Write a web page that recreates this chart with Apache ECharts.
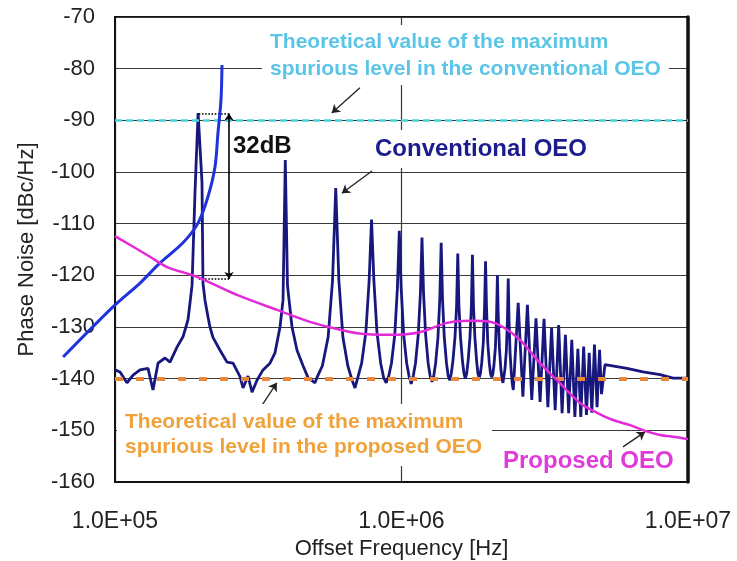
<!DOCTYPE html>
<html><head><meta charset="utf-8">
<script src="https://cdn.jsdelivr.net/npm/echarts@6/dist/echarts.min.js"></script>
<style>html,body{margin:0;padding:0;background:#fff}#chart{width:737px;height:561px}</style>
</head><body><div id="chart"></div>
<script>
// ---- data (frequency in Hz, level in dBc/Hz) ----
const xTickLabels = {5: '1.0E+05', 6: '1.0E+06', 7: '1.0E+07'};
const yTicks = [-160, -150, -140, -130, -120, -110, -100, -90, -80, -70];

const spuriousConventional = -90;
const spuriousProposed = -140;

const blueFreq  = [6.59e4, 9.84e4, 1.223e5, 1.436e5, 1.727e5, 1.949e5, 2.111e5, 2.234e5, 2.288e5, 2.344e5, 2.363e5];
const blueLevel = [-135.8, -126.1, -121.5, -117.6, -113.7, -109.9, -104.8, -99.0, -92.4, -86.1, -79.3];

const proposedFreq  = [1.0e5, 1.325e5, 1.519e5, 1.933e5, 2.666e5, 3.677e5, 4.792e5, 5.768e5, 6.993e5, 9.119e5,
                       1.160e6, 1.441e6, 1.734e6, 2.037e6, 2.261e6, 2.592e6, 3.044e6, 3.490e6, 4.198e6, 4.814e6,
                       5.472e6, 6.276e6, 7.079e6, 7.985e6, 9.010e6, 1.0e7];
const proposedLevel = [-112.4, -116.4, -118.4, -120.3, -123.8, -126.7, -129.0, -130.2, -131.2, -131.5,
                       -131.0, -129.2, -128.8, -129.0, -130.0, -132.5, -137.0, -140.3, -144.7, -146.6,
                       -148.0, -149.0, -150.1, -150.9, -151.3, -151.7];

const conventionalFreq = [
  1.0e5, 1.041e5, 1.101e5, 1.156e5, 1.223e5, 1.304e5, 1.357e5, 1.413e5, 1.495e5, 1.556e5,
  1.646e5, 1.727e5, 1.798e5, 1.857e5, 1.902e5, 1.950e5, 2.012e5, 2.028e5, 2.061e5, 2.111e5,
  2.145e5, 2.197e5, 2.326e5, 2.460e5, 2.582e5, 2.731e5, 2.798e5, 2.913e5, 3.008e5, 3.131e5,
  3.286e5, 3.475e5, 3.618e5, 3.767e5, 3.859e5, 3.930e5, 4.000e5, 4.148e5, 4.318e5, 4.532e5,
  4.718e5, 4.990e5,
  5.095e5, 5.295e5, 5.545e5, 5.745e5, 5.895e5, 6.045e5, 6.245e5, 6.495e5, 6.695e5, 6.881e5,
  7.060e5, 7.260e5, 7.510e5, 7.710e5, 7.860e5, 8.010e5, 8.210e5, 8.460e5, 8.660e5, 8.840e5,
  9.025e5, 9.225e5, 9.475e5, 9.675e5, 9.825e5, 9.975e5, 1.0175e6, 1.0425e6, 1.0625e6, 1.0808e6,
  1.099e6, 1.119e6, 1.144e6, 1.164e6, 1.179e6, 1.194e6, 1.214e6, 1.239e6, 1.259e6, 1.2773e6,
  1.2955e6, 1.3155e6, 1.3405e6, 1.3605e6, 1.3755e6, 1.3905e6, 1.4105e6, 1.4355e6, 1.4555e6, 1.4738e6,
  1.492e6, 1.512e6, 1.537e6, 1.557e6, 1.572e6, 1.587e6, 1.607e6, 1.632e6, 1.652e6, 1.6703e6,
  1.6885e6, 1.7085e6, 1.7335e6, 1.7535e6, 1.7685e6, 1.7835e6, 1.8035e6, 1.8285e6, 1.8485e6, 1.8668e6,
  1.885e6, 1.905e6, 1.930e6, 1.950e6, 1.965e6, 1.980e6, 2.000e6, 2.025e6, 2.045e6, 2.0633e6,
  2.0815e6, 2.1015e6, 2.1265e6, 2.1465e6, 2.1615e6, 2.1765e6, 2.1965e6, 2.2215e6, 2.2415e6, 2.2598e6,
  2.278e6, 2.298e6, 2.323e6, 2.343e6, 2.358e6, 2.373e6, 2.393e6, 2.418e6, 2.438e6, 2.4563e6,
  2.5545e6, 2.6528e6, 2.751e6, 2.8493e6, 2.9475e6, 3.0458e6, 3.144e6, 3.2423e6,
  3.3405e6, 3.4388e6, 3.537e6, 3.6353e6, 3.7335e6, 3.8318e6, 3.930e6, 4.0283e6,
  4.1265e6, 4.2248e6, 4.323e6, 4.4213e6, 4.5195e6, 4.6178e6, 4.716e6, 4.8143e6,
  4.9125e6, 4.990e6, 5.131e6, 6.124e6, 6.965e6, 7.985e6, 8.866e6, 1.0e7
];
const conventionalLevel = [
  -138.3, -138.7, -140.8, -139.3, -138.3, -138.0, -142.2, -137.0, -136.0, -136.8,
  -133.9, -131.9, -128.6, -122.0, -104.0, -88.6, -102.0, -121.5, -124.8, -128.0,
  -130.0, -132.0, -134.5, -136.8, -137.0, -139.6, -141.8, -139.5, -142.6, -140.3,
  -138.3, -137.0, -135.0, -130.0, -124.8, -97.7, -122.0, -130.0, -134.5, -137.5,
  -139.8, -140.8,
  -139.5, -137.5, -132.0, -121.0, -103.1, -121.0, -132.0, -137.5, -140.0, -141.8,
  -139.5, -137.0, -131.0, -121.0, -109.2, -121.0, -131.0, -137.0, -139.8, -140.8,
  -139.5, -137.0, -131.5, -122.5, -111.4, -122.5, -131.5, -137.0, -139.5, -141.0,
  -139.5, -137.0, -131.5, -123.5, -112.7, -123.5, -131.5, -137.0, -139.5, -140.6,
  -139.5, -137.0, -132.0, -124.5, -113.7, -124.5, -132.0, -137.0, -139.5, -140.3,
  -139.0, -136.5, -132.0, -126.0, -115.8, -126.0, -132.0, -136.5, -139.0, -140.0,
  -139.0, -136.5, -132.0, -126.0, -116.0, -126.0, -132.0, -136.5, -139.0, -139.8,
  -139.0, -137.0, -133.0, -126.0, -117.3, -126.0, -133.0, -137.0, -139.0, -139.7,
  -139.2, -137.5, -134.0, -128.0, -120.0, -128.0, -134.0, -138.0, -140.0, -140.8,
  -139.5, -138.0, -134.5, -128.5, -120.6, -128.5, -135.0, -139.0, -141.2, -142.2,
  -125.3, -143.5, -125.7, -144.1, -128.3, -144.5, -128.4, -145.5,
  -130.2, -146.1, -129.6, -146.7, -131.5, -146.7, -132.5, -147.4,
  -134.2, -147.4, -133.8, -147.0, -135.0, -146.6, -133.4, -145.5,
  -134.4, -143.0, -137.3, -138.0, -138.7, -139.2, -139.9, -139.9
];

// ---- build ----
const zip = (a, b) => a.map((v, i) => [v, b[i]]);
const FONT = '"Liberation Sans", Arial, sans-serif';
const chart = echarts.init(document.getElementById('chart'), null, {renderer: 'canvas'});

const arrowLine = (from, to) => [
  {coord: from, symbol: 'none'},
  {coord: to, symbol: 'arrow'}
];
// second (hidden) grid with the same scale, extended to the left,
// so that the blue curve can run past the y axis as in the original
const GRID = {left: 115, right: 49, top: 17, bottom: 79};
const pxPerDecade = (737 - GRID.left - GRID.right) / 2;
const extMin = 5e4;
const extLeft = GRID.left - pxPerDecade * Math.log10(1e5 / extMin);

const option = {
  animation: false,
  backgroundColor: '#fff',
  grid: [
    Object.assign({show: true, borderColor: '#111', borderWidth: 2, backgroundColor: 'transparent', outerBoundsMode: 'none', containLabel: false}, GRID),
    {left: extLeft, right: GRID.right, top: GRID.top, bottom: GRID.bottom, show: false, outerBoundsMode: 'none', containLabel: false}
  ],
  xAxis: [{
    type: 'log', logBase: 10, min: 1e5, max: 1e7,
    name: 'Offset Frequency [Hz]', nameLocation: 'middle', nameGap: 52,
    nameTextStyle: {fontFamily: FONT, fontSize: 22, color: '#222'},
    axisLine: {show: true, lineStyle: {color: '#111', width: 2}},
    axisTick: {show: false},
    axisLabel: {fontFamily: FONT, fontSize: 23, color: '#222', margin: 28,
      formatter: v => xTickLabels[Math.round(Math.log10(v))] || ''},
    splitLine: {show: true, lineStyle: {color: '#3a3a3a', width: 1.2}}
  }, {
    gridIndex: 1, type: 'log', logBase: 10, min: extMin, max: 1e7, show: false
  }],
  yAxis: [{
    type: 'value', min: yTicks[0], max: yTicks[yTicks.length - 1], interval: 10,
    name: 'Phase Noise [dBc/Hz]', nameLocation: 'middle', nameGap: 77, nameRotate: 90,
    nameTextStyle: {fontFamily: FONT, fontSize: 22, color: '#222'},
    axisLine: {show: true, lineStyle: {color: '#111', width: 2}},
    axisTick: {show: false},
    axisLabel: {fontFamily: FONT, fontSize: 22, color: '#222', margin: 20},
    splitLine: {show: true, lineStyle: {color: '#3a3a3a', width: 1.2}}
  }, {
    gridIndex: 1, type: 'value', min: yTicks[0], max: yTicks[yTicks.length - 1], interval: 10, show: false
  }, {
    gridIndex: 0, type: 'value', position: 'right', min: yTicks[0], max: yTicks[yTicks.length - 1], interval: 10,
    axisLine: {show: true, lineStyle: {color: '#111', width: 3.5}},
    axisTick: {show: false}, axisLabel: {show: false}, splitLine: {show: false}
  }],
  series: [
    {
      name: 'Conventional OEO', type: 'line', z: 3, showSymbol: false, silent: true,
      data: zip(conventionalFreq, conventionalLevel),
      lineStyle: {color: '#17177e', width: 2.8}
    },
    {
      name: 'refs', type: 'line', z: 4, data: [], silent: true,
      markLine: {
        silent: true, symbol: 'none', label: {show: false},
        data: [
          {yAxis: spuriousConventional, lineStyle: {color: '#45d2da', width: 2.5, type: [7, 4]}},
          {yAxis: spuriousProposed, lineStyle: {color: '#e9873a', width: 4, type: [8, 13]}}
        ]
      }
    },
    {
      name: 'blue', type: 'line', z: 5, showSymbol: false, silent: true, clip: false, smooth: 0.3,
      xAxisIndex: 1, yAxisIndex: 1,
      data: zip(blueFreq, blueLevel),
      lineStyle: {color: '#1f33dc', width: 3}
    },
    {
      name: 'Proposed OEO', type: 'line', z: 6, showSymbol: false, silent: true, smooth: 0.3,
      data: zip(proposedFreq, proposedLevel),
      lineStyle: {color: '#e22ad9', width: 2.5}
    },
    {
      name: 'annotations', type: 'line', z: 7, data: [], silent: true,
      markLine: {
        silent: true, label: {show: false}, symbolSize: 8,
        lineStyle: {color: '#222', width: 1.3, type: 'solid'},
        data: [
          arrowLine([7.16e5, -83.7], [5.71e5, -88.6]),
          arrowLine([7.89e5, -99.8], [6.19e5, -104.1]),
          arrowLine([3.21e5, -145.7], [3.67e5, -140.8]),
          arrowLine([5.93e6, -153.2], [7.08e6, -150.3]),
          [{coord: [2.5e5, -88.7], symbol: 'arrow', symbolSize: 7}, {coord: [2.5e5, -120.7], symbol: 'arrow', symbolSize: 7, lineStyle: {color: '#000', width: 1.6}}],
          [{coord: [1.96e5, -88.7], symbol: 'none'}, {coord: [2.5e5, -88.7], symbol: 'none', lineStyle: {type: 'dotted', width: 1.6, color: '#000'}}],
          [{coord: [1.96e5, -120.7], symbol: 'none'}, {coord: [2.5e5, -120.7], symbol: 'none', lineStyle: {type: 'dotted', width: 1.6, color: '#000'}}]
        ]
      }
    }
  ],
  graphic: [
    {type: 'text', x: 262, y: 25, z: 50,
      style: {text: 'Theoretical value of the maximum\nspurious level in the conventional OEO',
        font: 'bold 21px ' + FONT, fill: '#5ac5e6', lineHeight: 27, backgroundColor: '#fff', padding: [4, 8, 2, 8]}},
    {type: 'text', x: 117, y: 404, z: 50,
      style: {text: 'Theoretical value of the maximum\nspurious level in the proposed OEO',
        font: 'bold 21px ' + FONT, fill: '#f0a23a', lineHeight: 25, backgroundColor: '#fff', padding: [6, 10, 6, 8]}},
    {type: 'text', x: 369, y: 130, z: 50,
      style: {text: 'Conventional OEO', font: 'bold 24px ' + FONT, fill: '#1c1c8e', backgroundColor: '#fff', padding: [7, 6, 7, 6]}},
    {type: 'text', x: 233, y: 134, z: 50,
      style: {text: '32dB', font: 'bold 24px ' + FONT, fill: '#111'}},
    {type: 'text', x: 503, y: 449, z: 50,
      style: {text: 'Proposed OEO', font: 'bold 24px ' + FONT, fill: '#e03ad8'}}
  ]
};
chart.setOption(option);
</script></body></html>
